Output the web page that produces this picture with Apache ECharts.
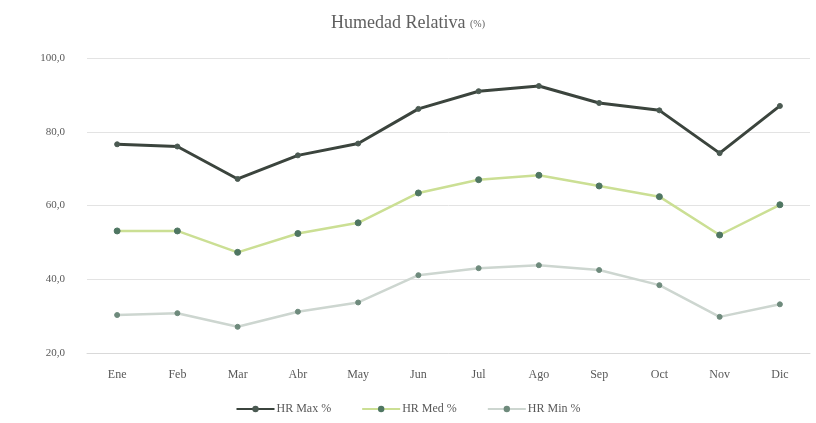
<!DOCTYPE html>
<html>
<head>
<meta charset="utf-8">
<script src="https://cdn.jsdelivr.net/npm/echarts@6/dist/echarts.min.js"></script>
<style>html,body{margin:0;padding:0;background:#fff;}#c{width:816px;height:423px;}</style>
</head>
<body>
<div id="c"></div>
<script>
const categories = ['Ene','Feb','Mar','Abr','May','Jun','Jul','Ago','Sep','Oct','Nov','Dic'];
const hrMax = [76.6, 76.0, 67.2, 73.6, 76.8, 86.2, 91.0, 92.4, 87.8, 85.8, 74.2, 87.0];
const hrMed = [53.1, 53.1, 47.3, 52.4, 55.3, 63.4, 67.0, 68.2, 65.3, 62.4, 52.0, 60.2];
const hrMin = [30.3, 30.8, 27.1, 31.2, 33.7, 41.1, 43.0, 43.8, 42.5, 38.4, 29.8, 33.2];
const yTicks = {min: 20, max: 100, interval: 20};

const font = '"Liberation Serif", "DejaVu Serif", serif';
const chart = echarts.init(document.getElementById('c'));
function mk(name, data, lineColor, markColor, width, size) {
  return {
    name, type: 'line', data,
    symbol: 'circle', symbolSize: size,
    lineStyle: {color: lineColor, width: width},
    itemStyle: {color: markColor, borderColor: markColor},
    emphasis: {disabled: true}
  };
}
chart.setOption({
  animation: false,
  title: {
    text: '{a|Humedad Relativa }{b|(%)}',
    left: 'center', top: 9,
    textStyle: {fontWeight: 'normal', rich: {
      a: {fontFamily: font, fontSize: 18, fontWeight: 'normal', color: '#5f5f5f'},
      b: {fontFamily: font, fontSize: 10, fontWeight: 'normal', color: '#5f5f5f', padding: [3,0,0,0]}
    }}
  },
  grid: {left: 87, right: 6, top: 58, bottom: 70},
  xAxis: {
    type: 'category', data: categories, boundaryGap: true,
    axisLine: {show: true, lineStyle: {color: '#d9d9d9'}},
    axisTick: {show: false},
    axisLabel: {fontFamily: font, fontSize: 12, color: '#595959', margin: 16}
  },
  yAxis: {
    type: 'value', min: yTicks.min, max: yTicks.max, interval: yTicks.interval,
    axisLine: {show: false}, axisTick: {show: false},
    splitLine: {lineStyle: {color: '#e3e3e3', width: 1}},
    axisLabel: {fontFamily: font, fontSize: 11, color: '#595959', margin: 22,
      formatter: v => v.toFixed(1).replace('.', ',')}
  },
  legend: {
    bottom: 3, left: 'center', itemGap: 30, itemWidth: 38, itemHeight: 8,
    textStyle: {fontFamily: font, fontSize: 12, color: '#595959', padding: [0,0,0,-3]},
    data: ['HR Max %', 'HR Med %', 'HR Min %']
  },
  series: [
    mk('HR Max %', hrMax, '#3b443d', '#4b5a52', 3, 5),
    mk('HR Med %', hrMed, '#cbdf94', '#4f7662', 2.5, 6),
    mk('HR Min %', hrMin, '#cdd6d0', '#6e8a7c', 2.5, 5)
  ]
});
</script>
</body>
</html>
